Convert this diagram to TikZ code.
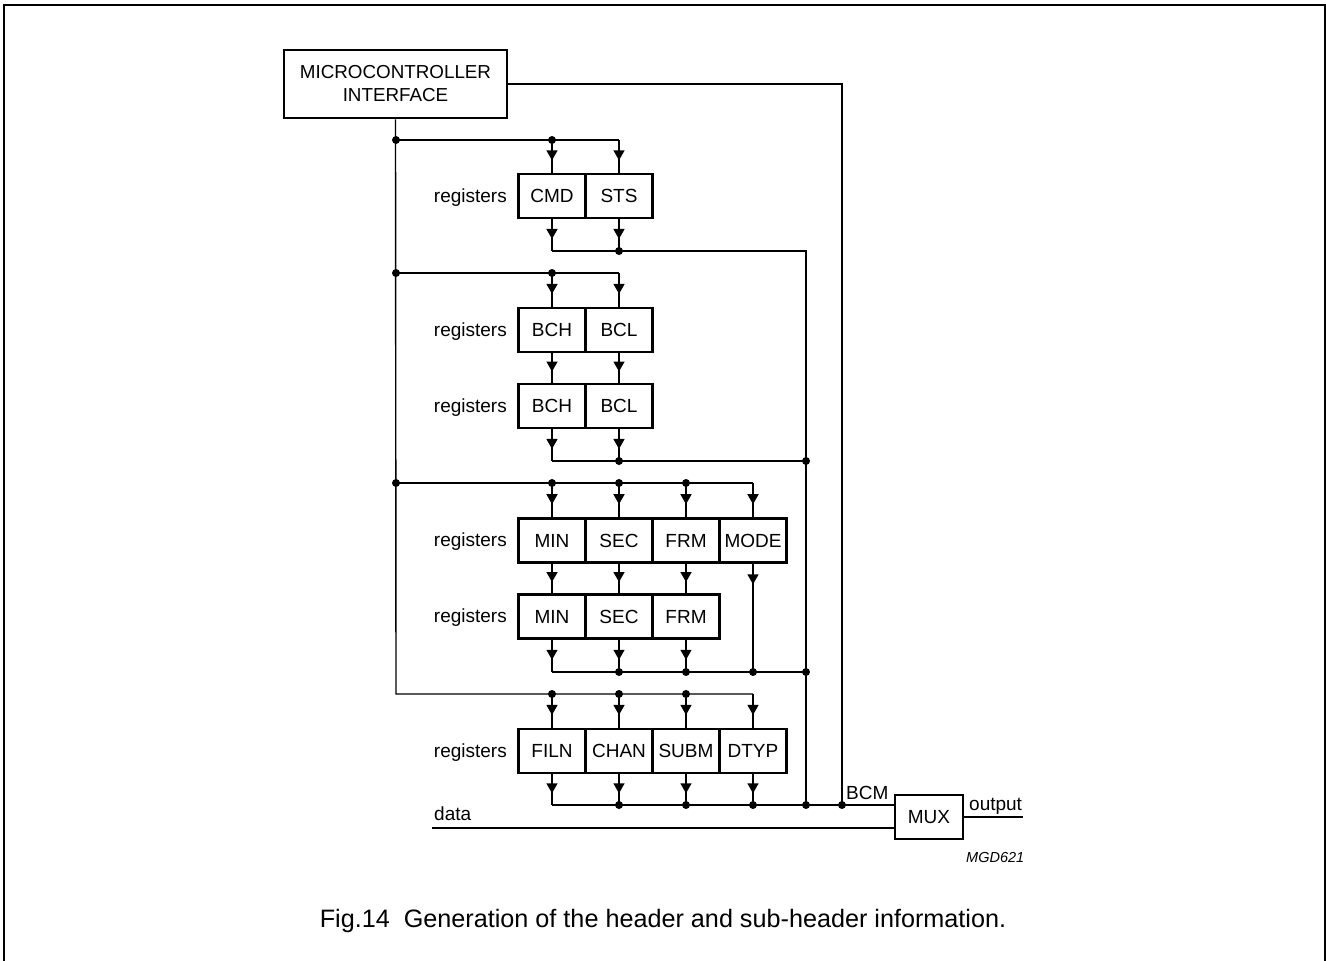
\documentclass[tikz,border=0pt]{standalone}
\usepackage{fontspec}
\setmainfont{Liberation Sans}
\usetikzlibrary{arrows.meta,decorations.markings}
\begin{document}
\begin{tikzpicture}[x=1pt,y=-1pt,
  wire/.style={line width=1.4pt, draw=black},
  reg/.style={draw, line width=2.5pt, minimum width=67pt, minimum height=44pt, inner sep=0pt, font=\fontsize{19}{20}\selectfont},
  lbl/.style={font=\fontsize{19}{20}\selectfont, inner sep=0pt},
  arr/.style={wire, postaction={decorate}, decoration={markings, mark=at position #1 with {\arrow{Triangle[length=10pt,width=11pt]}}}},
  arr/.default=0.62,
]
\useasboundingbox (0,0) rectangle (1326,961);
\draw[line width=2pt] (4,962) -- (4,5) -- (1325,5) -- (1325,962);

% microcontroller
\node[draw, line width=2.5pt, minimum width=223pt, minimum height=68pt, inner sep=0pt, align=center,
      font=\fontsize{18.8}{23}\selectfont] (mcu) at (395.5,84) {MICROCONTROLLER\\INTERFACE};

% ---- group 1
\node[reg] (cmd) at (552,196) {CMD};
\node[reg] (sts) at (619,196) {STS};
\node[lbl, anchor=east] (r1) at (507,197.5) {registers};
% ---- group 2
\node[reg] (bchA) at (552,330) {BCH};
\node[reg] (bclA) at (619,330) {BCL};
\node[lbl, anchor=east] (r2) at (507,331.5) {registers};
\node[reg] (bchB) at (552,406) {BCH};
\node[reg] (bclB) at (619,406) {BCL};
\node[lbl, anchor=east] (r3) at (507,407.5) {registers};
% ---- group 3
\node[reg] (minA) at (552,540.5) {MIN};
\node[reg] (secA) at (619,540.5) {SEC};
\node[reg] (frmA) at (686,540.5) {FRM};
\node[reg] (mode) at (753,540.5) {MODE};
\node[lbl, anchor=east] (r4) at (507,542) {registers};
\node[reg] (minB) at (552,616.5) {MIN};
\node[reg] (secB) at (619,616.5) {SEC};
\node[reg] (frmB) at (686,616.5) {FRM};
\node[lbl, anchor=east] (r5) at (507,618) {registers};
% ---- group 4
\node[reg] (filn) at (552,751) {FILN};
\node[reg] (chan) at (619,751) {CHAN};
\node[reg] (subm) at (686,751) {SUBM};
\node[reg] (dtyp) at (753,751) {DTYP};
\node[lbl, anchor=east] (r6) at (507,752.5) {registers};

% MUX
\node[draw, line width=2.5pt, minimum width=68pt, minimum height=44pt, inner sep=0pt,
      font=\fontsize{19}{20}\selectfont] (mux) at (929,817) {MUX};

% junction coordinates
\coordinate (L1) at (396,140); \coordinate (L2) at (396,273);
\coordinate (L3) at (396,483); \coordinate (L4) at (396,694);
\coordinate (t1a) at (552,140); \coordinate (t1b) at (619,140);
\coordinate (t2a) at (552,273); \coordinate (t2b) at (619,273);
\coordinate (t3a) at (552,483); \coordinate (t3b) at (619,483);
\coordinate (t3c) at (686,483); \coordinate (t3d) at (753,483);
\coordinate (t4a) at (552,694); \coordinate (t4b) at (619,694);
\coordinate (t4c) at (686,694); \coordinate (t4d) at (753,694);
\coordinate (b1a) at (552,251); \coordinate (b1b) at (619,251);
\coordinate (b2a) at (552,461); \coordinate (b2b) at (619,461);
\coordinate (b3a) at (552,672); \coordinate (b3b) at (619,672);
\coordinate (b3c) at (686,672); \coordinate (b3d) at (753,672);
\coordinate (b4a) at (552,805); \coordinate (b4b) at (619,805);
\coordinate (b4c) at (686,805); \coordinate (b4d) at (753,805);
\coordinate (R1) at (806,251); \coordinate (R2) at (806,461);
\coordinate (R3) at (806,672); \coordinate (R4) at (806,805);
\coordinate (C0) at (842,84); \coordinate (C1) at (842,805);
\coordinate (din) at (432,828); \coordinate (dout) at (1023,817);

% left bus and branches
\draw[wire] (mcu.south) -- (L4) -- (t4d);
\draw[wire] (L1) -- (t1b);
\draw[wire] (L2) -- (t2b);
\draw[wire] (L3) -- (t3d);

% group 1 wiring
\draw[arr] (t1a) -- (cmd);
\draw[arr] (t1b) -- (sts);
\draw[arr] (cmd) -- (b1a);
\draw[arr] (sts) -- (b1b);
\draw[wire] (b1a) -- (R1) -- (R4);
% group 2 wiring
\draw[arr] (t2a) -- (bchA);
\draw[arr] (t2b) -- (bclA);
\draw[arr] (bchA) -- (bchB);
\draw[arr] (bclA) -- (bclB);
\draw[arr] (bchB) -- (b2a);
\draw[arr] (bclB) -- (b2b);
\draw[wire] (b2a) -- (R2);
% group 3 wiring
\draw[arr] (t3a) -- (minA);
\draw[arr] (t3b) -- (secA);
\draw[arr] (t3c) -- (frmA);
\draw[arr] (t3d) -- (mode);
\draw[arr] (minA) -- (minB);
\draw[arr] (secA) -- (secB);
\draw[arr] (frmA) -- (frmB);
\draw[arr] (minB) -- (b3a);
\draw[arr] (secB) -- (b3b);
\draw[arr] (frmB) -- (b3c);
\draw[arr=0.19] (mode) -- (b3d);
\draw[wire] (b3a) -- (R3);
% group 4 wiring
\draw[arr] (t4a) -- (filn);
\draw[arr] (t4b) -- (chan);
\draw[arr] (t4c) -- (subm);
\draw[arr] (t4d) -- (dtyp);
\draw[arr] (filn) -- (b4a);
\draw[arr] (chan) -- (b4b);
\draw[arr] (subm) -- (b4c);
\draw[arr] (dtyp) -- (b4d);
\draw[wire] (b4a) -- (b4a -| mux.west);
% MCU to BCM
\draw[wire] (mcu.east) -- (C0) -- (C1);
% data and output
\draw[wire] (din) -- (din -| mux.west);
\draw[wire] (mux.east) -- (dout);

% dots
\foreach \p in {L1,L2,L3,t1a,t2a,t3a,t3b,t3c,t4a,t4b,t4c,b1b,b2b,R2,b3b,b3c,b3d,R3,b4b,b4c,b4d,R4,C1}
  \fill (\p) circle (4pt);

% labels
\node[lbl, anchor=base west] (bcm) at (846,799) {BCM};
\node[lbl, anchor=base west] (outl) at (969,810) {output};
\node[lbl, anchor=base west] (datal) at (434,820) {data};
\node[inner sep=0pt, anchor=base west, font=\fontsize{14.5}{16}\selectfont\itshape] (mgd) at (966,862) {MGD621};
\node[inner sep=0pt, anchor=base, font=\fontsize{25.2}{28}\selectfont] (cap) at (663,927) {Fig.14\ \ Generation of the header and sub-header information.};
\end{tikzpicture}
\end{document}
